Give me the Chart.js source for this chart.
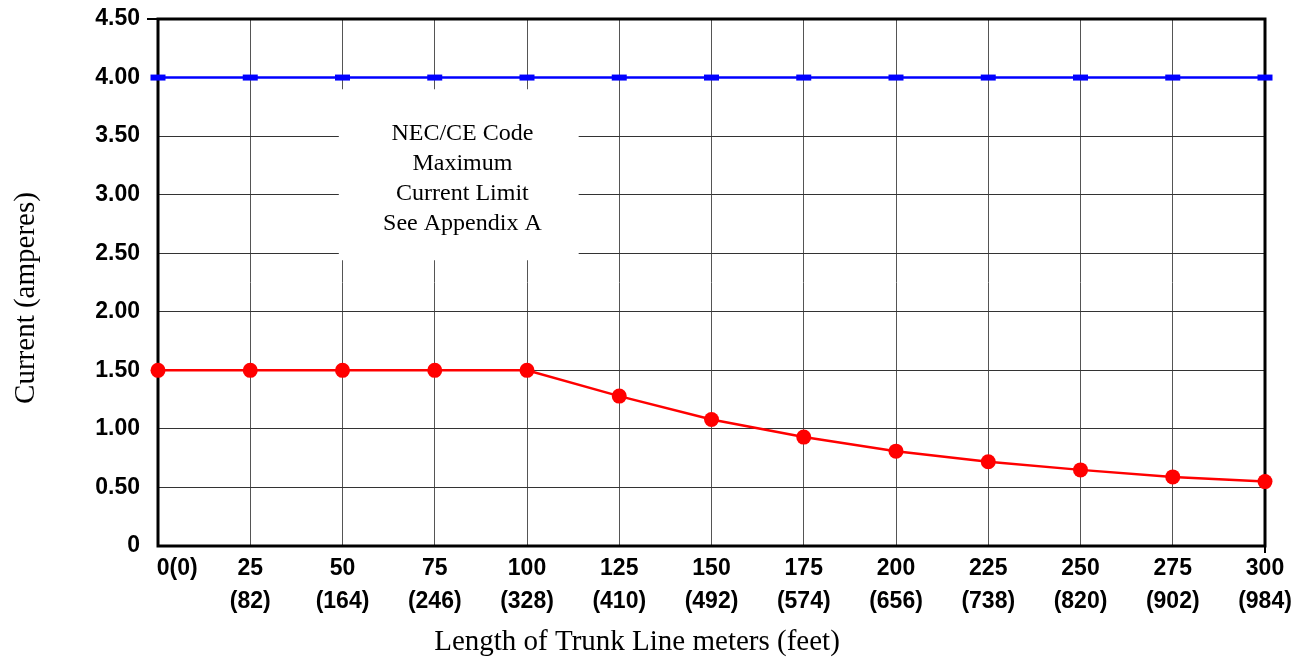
<!DOCTYPE html>
<html>
<head>
<meta charset="utf-8">
<script src="https://cdn.jsdelivr.net/npm/chart.js@4/dist/chart.umd.min.js"></script>
<style>
  html, body { margin: 0; padding: 0; background: #fff; }
  #wrap { width: 1304px; height: 659px; }
</style>
</head>
<body>
<div id="wrap"><canvas id="chart" width="1304" height="659"></canvas></div>
<script>
// trunk length in meters, with feet in brackets
const meters = [0, 25, 50, 75, 100, 125, 150, 175, 200, 225, 250, 275, 300];
const feet = [0, 82, 164, 246, 328, 410, 492, 574, 656, 738, 820, 902, 984];
const trunkCurrent = [1.5, 1.5, 1.5, 1.5, 1.5, 1.28, 1.08, 0.93, 0.81, 0.72, 0.65, 0.59, 0.55];
const codeLimit = [4, 4, 4, 4, 4, 4, 4, 4, 4, 4, 4, 4, 4];
const yTicks = [0, 0.5, 1, 1.5, 2, 2.5, 3, 3.5, 4, 4.5];
const noteLines = ['NEC/CE Code', 'Maximum', 'Current Limit', 'See Appendix A'];

const labels = meters.map((m, i) => i === 0 ? ['      0(0)'] : [String(m), '(' + feet[i] + ')']);

const serif = '"Liberation Serif", "Times New Roman", serif';
const sans = '"Liberation Sans", Arial, sans-serif';

// white note box, frame and axis titles
const extras = {
  id: 'extras',
  beforeDatasetsDraw(chart) {
    const ctx = chart.ctx;
    const x = chart.scales.x, y = chart.scales.y;
    const a = chart.chartArea;
    ctx.save();
    // note box
    const bx1 = x.getPixelForDecimal(49 / 300), bx2 = x.getPixelForDecimal(114 / 300);
    const by1 = y.getPixelForValue(3.9), by2 = y.getPixelForValue(2.44);
    ctx.fillStyle = '#fff';
    ctx.fillRect(bx1, by1, bx2 - bx1, by2 - by1);
    ctx.fillStyle = '#000';
    ctx.font = '24px ' + serif;
    ctx.textAlign = 'center';
    ctx.textBaseline = 'middle';
    const cx = x.getPixelForDecimal(82.5 / 300);
    noteLines.forEach((t, i) => ctx.fillText(t, cx, by1 + 44 + i * 30));
    // frame
    ctx.strokeStyle = '#000';
    ctx.lineWidth = 3;
    ctx.strokeRect(a.left, a.top, a.right - a.left, a.bottom - a.top);
    ctx.lineWidth = 2;
    ctx.beginPath();
    ctx.moveTo(a.left - 11, a.top); ctx.lineTo(a.left, a.top);
    ctx.moveTo(a.right, a.bottom); ctx.lineTo(a.right, a.bottom + 7);
    ctx.stroke();
    ctx.restore();
  },
  afterDraw(chart) {
    const ctx = chart.ctx;
    ctx.save();
    ctx.fillStyle = '#000';
    ctx.font = '29px ' + serif;
    ctx.textAlign = 'center';
    ctx.textBaseline = 'middle';
    ctx.fillText('Length of Trunk Line meters (feet)', 637, 642);
    ctx.translate(26, 298);
    ctx.rotate(-Math.PI / 2);
    ctx.fillText('Current (amperes)', 0, 0);
    ctx.restore();
  }
};

new Chart(document.getElementById('chart'), {
  type: 'line',
  data: {
    labels: labels,
    datasets: [
      {
        label: 'NEC/CE limit',
        data: codeLimit,
        borderColor: '#0000ff',
        backgroundColor: '#0000ff',
        borderWidth: 2.5,
        pointStyle: 'line',
        pointRadius: 7.5,
        pointBorderWidth: 6,
        tension: 0,
        clip: false
      },
      {
        label: 'Trunk current',
        data: trunkCurrent,
        borderColor: '#ff0000',
        backgroundColor: '#ff0000',
        borderWidth: 2.5,
        pointRadius: 7.5,
        pointBorderWidth: 0,
        tension: 0,
        clip: false
      }
    ]
  },
  options: {
    responsive: false,
    animation: false,
    layout: { padding: { top: 19, right: 39, left: 0, bottom: 0 } },
    plugins: {
      legend: { display: false },
      tooltip: { enabled: false }
    },
    scales: {
      x: {
        offset: false,
        grid: { color: '#555', lineWidth: 1, drawTicks: false },
        border: { display: false },
        ticks: {
          color: '#000',
          font: { family: sans, size: 23, weight: 'bold', lineHeight: 1.45 },
          maxRotation: 0,
          autoSkip: false,
          padding: 6
        },
        afterFit(scale) {
          scale.height = 113;
          scale.paddingLeft = 0;
          scale.paddingRight = 0;
        }
      },
      y: {
        min: 0,
        max: 4.5,
        afterBuildTicks(scale) { scale.ticks = yTicks.map(v => ({ value: v })); },
        grid: { color: '#333', lineWidth: 1, drawTicks: false },
        border: { display: false },
        ticks: {
          color: '#000',
          font: { family: sans, size: 23, weight: 'bold' },
          padding: 18,
          callback: v => v === 0 ? '0' : v.toFixed(2)
        },
        afterFit(scale) {
          scale.width = 158;
          scale.paddingTop = 0;
          scale.paddingBottom = 0;
        }
      }
    }
  },
  plugins: [extras]
});
</script>
</body>
</html>
